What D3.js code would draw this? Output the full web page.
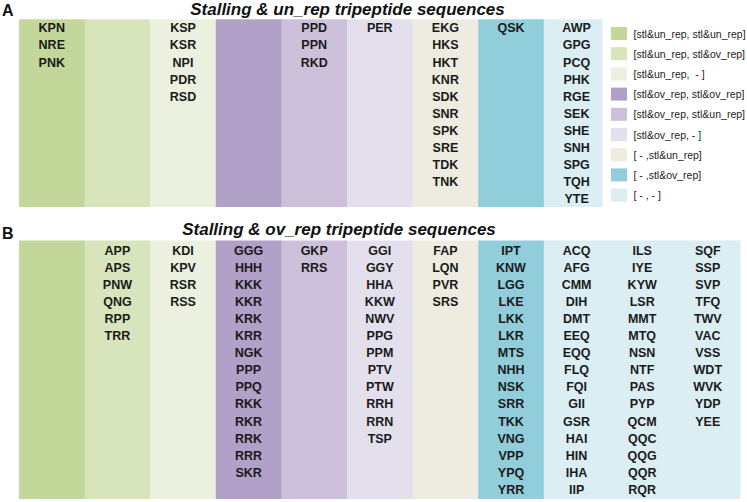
<!DOCTYPE html>
<html>
<head>
<meta charset="utf-8">
<script src="https://cdn.jsdelivr.net/npm/d3@7"></script>
<style>
  html, body { margin: 0; padding: 0; background: #fff; }
  svg { display: block; }
  text { font-family: "Liberation Sans", Arial, sans-serif; }
</style>
</head>
<body>
<svg id="chart" width="747" height="502"></svg>
<script>
// ---- data ----
const categories = [
  "[stl&un_rep, stl&un_rep]",
  "[stl&un_rep, stl&ov_rep]",
  "[stl&un_rep,  - ]",
  "[stl&ov_rep, stl&ov_rep]",
  "[stl&ov_rep, stl&un_rep]",
  "[stl&ov_rep, - ]",
  "[ - ,stl&un_rep]",
  "[ - ,stl&ov_rep]",
  "[ - , - ]"
];
const categoryColors = ["#c4d79b", "#d8e4bc", "#ebf1de", "#b1a0c7", "#ccc0da", "#e4dfec", "#eeece1", "#92cddc", "#daeef3"];

const titleA = "Stalling & un_rep tripeptide sequences";
const titleB = "Stalling & ov_rep tripeptide sequences";

const panelA = [
  ["KPN", "NRE", "PNK"],
  [],
  ["KSP", "KSR", "NPI", "PDR", "RSD"],
  [],
  ["PPD", "PPN", "RKD"],
  ["PER"],
  ["EKG", "HKS", "HKT", "KNR", "SDK", "SNR", "SPK", "SRE", "TDK", "TNK"],
  ["QSK"],
  ["AWP", "GPG", "PCQ", "PHK", "RGE", "SEK", "SHE", "SNH", "SPG", "TQH", "YTE"]
];

const panelB = [
  [],
  ["APP", "APS", "PNW", "QNG", "RPP", "TRR"],
  ["KDI", "KPV", "RSR", "RSS"],
  ["GGG", "HHH", "KKK", "KKR", "KRK", "KRR", "NGK", "PPP", "PPQ", "RKK", "RKR", "RRK", "RRR", "SKR"],
  ["GKP", "RRS"],
  ["GGI", "GGY", "HHA", "KKW", "NWV", "PPG", "PPM", "PTV", "PTW", "RRH", "RRN", "TSP"],
  ["FAP", "LQN", "PVR", "SRS"],
  ["IPT", "KNW", "LGG", "LKE", "LKK", "LKR", "MTS", "NHH", "NSK", "SRR", "TKK", "VNG", "VPP", "YPQ", "YRR"],
  ["ACQ", "AFG", "CMM", "DIH", "DMT", "EEQ", "EQQ", "FLQ", "FQI", "GII", "GSR", "HAI", "HIN", "IHA", "IIP",
   "ILS", "IYE", "KYW", "LSR", "MMT", "MTQ", "NSN", "NTF", "PAS", "PYP", "QCM", "QQC", "QQG", "QQR", "RQR",
   "SQF", "SSP", "SVP", "TFQ", "TWV", "VAC", "VSS", "WDT", "WVK", "YDP", "YEE"]
];

// ---- layout ----
const svg = d3.select("#chart");
const maxRows = 15;
const colW = 65.6;
const left = 19;
const rowH = 17.1;

const color = d3.scaleOrdinal().domain(categories).range(categoryColors);

function layout(panel) {
  // split each category into text columns of at most maxRows entries
  const cols = [];
  let idx = 0;
  panel.forEach((seqs, ci) => {
    const n = Math.max(1, Math.ceil(seqs.length / maxRows));
    const start = idx;
    for (let k = 0; k < n; k++) {
      cols.push({cat: ci, items: seqs.slice(k * maxRows, (k + 1) * maxRows), col: idx});
      idx++;
    }
    panel[ci]._span = [start, idx];
  });
  return {cols, nCols: idx};
}

function drawPanel(panel, opts) {
  const {cols, nCols} = layout(panel);
  const x = d3.scaleLinear().domain([0, nCols]).range([left, left + nCols * colW]);
  const y = d3.scaleLinear().domain([0, 1]).range([opts.top + opts.firstOffset, opts.top + opts.firstOffset + rowH]);
  const g = svg.append("g");

  const spans = panel.map((seqs, ci) => ({cat: ci, span: seqs._span}));
  g.selectAll("rect.cat").data(spans).join("rect")
    .attr("class", "cat")
    .attr("x", d => x(d.span[0]))
    .attr("width", d => Math.min(x(d.span[1]), opts.right) - x(d.span[0]) + 0.5)
    .attr("y", opts.top)
    .attr("height", opts.bottom - opts.top)
    .attr("fill", d => color(categories[d.cat]));

  const colG = g.selectAll("g.col").data(cols).join("g").attr("class", "col");
  colG.selectAll("text").data(d => d.items.map((s, i) => ({s, i, col: d.col}))).join("text")
    .attr("x", d => x(d.col + 0.5))
    .attr("y", d => y(d.i))
    .attr("dy", "0.36em")
    .attr("text-anchor", "middle")
    .attr("font-weight", "bold")
    .attr("font-size", "12.5px")
    .attr("fill", "#1a1a1a")
    .text(d => d.s);

  svg.append("text")
    .attr("x", opts.titleX).attr("y", opts.titleY)
    .attr("text-anchor", "middle")
    .attr("font-weight", "bold").attr("font-style", "italic")
    .attr("font-size", "17px").attr("fill", "#111")
    .text(opts.title);

  svg.append("text")
    .attr("x", 2).attr("y", opts.letterY)
    .attr("font-weight", "bold")
    .attr("font-size", "16px").attr("fill", "#111")
    .text(opts.letter);
}

drawPanel(panelA, {top: 19.3, bottom: 207, right: 602, firstOffset: 8.5, title: titleA, titleX: 347.5, titleY: 15, letter: "A", letterY: 16});
drawPanel(panelB, {top: 240.5, bottom: 499, right: 740, firstOffset: 9.5, title: titleB, titleX: 339, titleY: 235, letter: "B", letterY: 239});

// ---- legend ----
const leg = svg.append("g").attr("transform", "translate(611,27)");
const legItem = leg.selectAll("g").data(categories).join("g")
  .attr("transform", (d, i) => `translate(0,${i * 20.2})`);
legItem.append("rect").attr("width", 16).attr("height", 13).attr("fill", d => color(d));
legItem.append("text")
  .attr("x", 22.5).attr("y", 6.8).attr("dy", "0.36em")
  .attr("font-size", "10.5px").attr("fill", "#222")
  .style("white-space", "pre")
  .text(d => d);
</script>
</body>
</html>
